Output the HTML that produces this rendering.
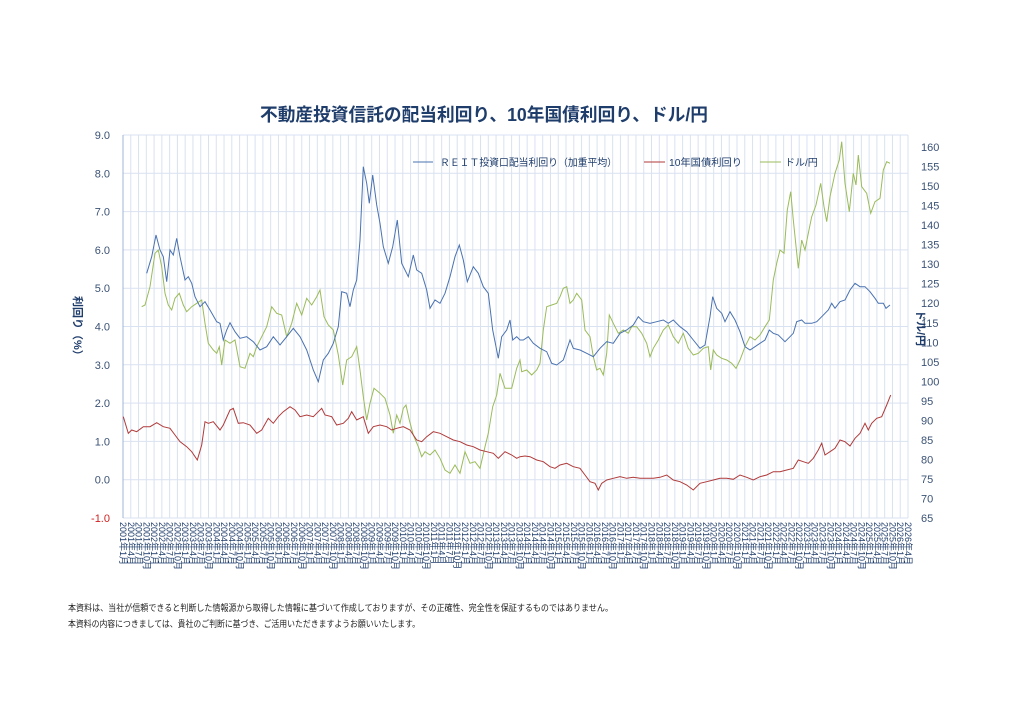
<!DOCTYPE html>
<html><head><meta charset="utf-8">
<style>
html,body{margin:0;padding:0;background:#fff;overflow:hidden;}
svg{display:block;}
text{font-family:"Liberation Sans","Noto Sans CJK JP",sans-serif;}
</style></head>
<body>
<svg id="c" width="1024" height="723" xmlns="http://www.w3.org/2000/svg">
<rect width="1024" height="723" fill="#fff"/>
<g id="grid"></g>
<g id="series"></g>
<g id="labels"></g>
<text x="484" y="121" text-anchor="middle" font-size="18" font-weight="bold" fill="#1f3d6b" textLength="448" lengthAdjust="spacingAndGlyphs">不動産投資信託の配当利回り、10年国債利回り、ドル/円</text>
<line x1="413" y1="162" x2="433" y2="162" stroke="#4a72b0" stroke-width="1"/>
<text x="440" y="166" font-size="10" fill="#1f3d6b" textLength="177" lengthAdjust="spacingAndGlyphs">ＲＥＩＴ投資口配当利回り（加重平均）</text>
<line x1="644" y1="162" x2="665" y2="162" stroke="#b03a3a" stroke-width="1"/>
<text x="669" y="166" font-size="10" fill="#1f3d6b" textLength="73" lengthAdjust="spacingAndGlyphs">10年国債利回り</text>
<line x1="760" y1="162" x2="781" y2="162" stroke="#9bbb59" stroke-width="1"/>
<text x="785" y="166" font-size="10" fill="#1f3d6b">ドル/円</text>
<text transform="translate(74,296) rotate(90)" font-size="11" font-weight="bold" fill="#1f3d6b">利回り（%）</text>
<text transform="translate(917,310) rotate(90)" font-size="11" font-weight="bold" fill="#1f3d6b">ドル/円</text>
<text x="68" y="611" font-size="9" fill="#222" textLength="545" lengthAdjust="spacingAndGlyphs">本資料は、当社が信頼できると判断した情報源から取得した情報に基づいて作成しておりますが、その正確性、完全性を保証するものではありません。</text>
<text x="68" y="627" font-size="9" fill="#222" textLength="352" lengthAdjust="spacingAndGlyphs">本資料の内容につきましては、貴社のご判断に基づき、ご活用いただきますようお願いいたします。</text>
</svg>
<script>
var NS="http://www.w3.org/2000/svg";
function el(t,a,p){var e=document.createElementNS(NS,t);for(var k in a)e.setAttribute(k,a[k]);p.appendChild(e);return e;}
var grid=document.getElementById('grid'),lab=document.getElementById('labels'),ser=document.getElementById('series');
var X0=123,X1=908,N=102,dx=(X1-X0)/(N-1);
for(var i=0;i<N;i++){var x=X0+i*dx;el('line',{x1:x,y1:135,x2:x,y2:518,stroke:'#d9e2f0','stroke-width':1},grid);}
for(var v=9;v>=-1;v--){var y=135+(9-v)*38.3;el('line',{x1:X0,y1:y,x2:X1,y2:y,stroke:'#d9e2f0','stroke-width':1},grid);
 var t=el('text',{x:110,y:y+4,'font-size':11,'text-anchor':'end',fill:v<0?'#d02020':'#3b5275'},lab);t.textContent=v.toFixed(1);}
el('line',{x1:X0,y1:135,x2:X0,y2:518,stroke:'#9fb4d4','stroke-width':1},grid);
for(var r=160;r>=65;r-=5){var y=147+(160-r)/5*19.53;var t=el('text',{x:921,y:y+4,'font-size':11,fill:'#3b5275'},lab);t.textContent=r;}
var m=[1,4,7,10];
for(var i=0;i<N;i++){var yr=2001+Math.floor(i/4),mo=m[i%4];var x=X0+i*dx;
 var t=el('text',{transform:'translate('+(x-3)+',522) rotate(90)','font-size':9,fill:'#1f3d6b'},lab);t.textContent=yr+'年'+mo+'月';}
function P(off,pts,minx){return pts.filter(function(p){return minx===undefined||p[0]>=minx;}).map(function(p){return (off[0]+p[0]/3).toFixed(1)+','+(off[1]+p[1]/3).toFixed(1);}).join(' ');}
var A=[120,140],B=[500,140];
var blue1=[[80,400],[95,350],[108,285],[120,330],[130,350],[140,425],[150,330],[160,345],[170,295],[180,350],[195,420],[205,410],[215,430],[225,470],[240,500],[255,485],[270,510],[290,545],[300,550],[310,600],[320,570],[330,548],[345,575],[360,595],[380,590],[400,605],[420,630],[440,620],[460,590],[480,615],[500,590],[520,565],[540,590],[560,630],[580,690],[595,725],[610,660],[625,640],[640,610],[655,560],[665,455],[680,460],[690,500],[700,450],[710,420],[720,300],[730,80],[740,130],[748,190],[758,105],[770,195],[780,250],[790,320],[805,370],[818,320],[832,240],[845,370],[865,410],[880,345],[890,390],[905,400],[920,450],[930,505],[945,480],[960,490],[975,460],[990,410],[1005,350],[1018,315],[1030,360],[1042,425],[1060,380],[1075,400],[1090,440],[1105,460],[1118,570],[1135,655],[1145,590],[1160,570],[1170,540],[1178,600],[1190,590],[1200,600]];
var blue2=[[0,640],[10,580],[20,570],[30,540],[40,600],[55,595],[70,600],[85,590],[100,610],[120,625],[140,635],[155,670],[170,675],[190,660],[210,600],[220,625],[240,630],[260,640],[280,650],[300,625],[320,605],[340,610],[360,580],[380,570],[400,555],[415,530],[430,545],[450,550],[470,545],[490,540],[505,550],[520,540],[540,560],[560,575],[580,600],[600,625],[615,615],[630,530],[638,470],[650,505],[665,520],[675,545],[690,515],[705,540],[720,575],[735,620],[750,630],[765,620],[780,610],[795,600],[808,570],[820,580],[835,585],[855,605],[870,590],[880,580],[890,545],[905,540],[915,550],[935,550],[950,545],[965,530],[985,510],[995,490],[1005,505],[1020,485],[1035,480],[1050,450],[1065,430],[1080,440],[1095,440],[1110,455],[1125,475],[1135,490],[1150,490],[1158,505],[1170,495]];
var red1=[[10,830],[25,880],[35,870],[50,875],[70,860],[90,860],[110,848],[130,860],[150,865],[165,885],[180,905],[200,920],[215,935],[232,960],[245,915],[255,845],[265,850],[280,845],[300,870],[310,855],[330,810],[340,805],[355,850],[370,848],[390,855],[410,880],[425,870],[445,835],[460,850],[475,830],[490,815],[510,800],[525,810],[540,830],[560,825],[580,830],[595,815],[605,805],[615,825],[635,830],[650,855],[670,850],[685,835],[695,815],[710,840],[730,830],[745,880],[760,860],[780,855],[800,860],[815,870],[830,865],[850,860],[870,870],[890,900],[905,905],[920,890],[940,875],[960,880],[980,890],[1000,900],[1020,905],[1040,915],[1060,920],[1080,930],[1100,935],[1120,940],[1135,955],[1155,935],[1175,945],[1190,955],[1200,950]];
var red2=[[0,950],[15,920],[30,935],[45,950],[60,945],[75,948],[90,950],[110,960],[130,965],[150,980],[165,985],[180,975],[200,970],[220,980],[240,985],[255,1005],[270,1025],[285,1030],[295,1050],[305,1030],[320,1020],[340,1015],[360,1010],[380,1015],[400,1012],[420,1015],[440,1015],[460,1015],[480,1012],[500,1005],[520,1020],[540,1025],[560,1035],[580,1050],[600,1030],[620,1025],[640,1020],[660,1015],[680,1015],[700,1018],[720,1005],[740,1012],[760,1020],[780,1010],[800,1005],[820,995],[840,995],[860,990],[880,985],[895,960],[910,965],[925,970],[940,955],[955,930],[965,910],[975,945],[990,935],[1005,925],[1020,900],[1035,905],[1050,918],[1065,895],[1080,880],[1095,850],[1105,870],[1115,850],[1130,835],[1145,830],[1160,795],[1172,765]];
var g1=[[65,500],[75,495],[90,440],[105,340],[115,330],[125,380],[135,460],[145,495],[155,510],[165,475],[178,460],[190,495],[200,515],[215,500],[230,490],[245,480],[255,550],[265,610],[280,630],[290,640],[298,620],[305,675],[315,600],[330,610],[345,600],[360,680],[375,685],[390,640],[400,650],[410,620],[425,590],[440,560],[455,500],[470,520],[485,525],[500,590],[515,550],[530,490],[545,525],[560,475],[575,495],[590,470],[600,450],[612,530],[625,555],[640,570],[655,645],[668,735],[680,660],[695,650],[710,620],[720,690],[730,770],[740,840],[750,790],[762,745],[780,760],[795,775],[810,825],[820,880],[830,825],[840,850],[850,805],[858,795],[868,840],[880,885],[895,920],[905,950],[915,935],[930,945],[945,930],[960,955],[975,990],[990,1000],[1005,975],[1020,1000],[1035,935],[1050,970],[1065,965],[1080,985],[1095,920],[1105,880],[1118,800],[1130,765],[1140,700],[1155,745],[1175,745],[1190,685],[1200,660]];
var g2=[[0,720],[15,745],[35,745],[45,700],[55,660],[65,695],[80,690],[95,705],[110,690],[120,670],[130,570],[140,500],[155,495],[170,490],[180,470],[190,445],[200,440],[210,490],[220,480],[230,460],[245,480],[255,570],[270,590],[280,650],[290,690],[300,685],[310,705],[320,640],[328,525],[340,550],[355,580],[370,570],[385,580],[395,560],[410,560],[425,580],[440,610],[450,650],[460,625],[475,600],[490,570],[505,555],[520,590],[535,610],[550,580],[565,625],[580,645],[595,640],[610,625],[625,620],[632,690],[640,630],[650,645],[665,655],[680,660],[695,670],[708,685],[720,660],[735,620],[750,590],[765,600],[780,585],[795,560],[808,540],[820,420],[830,370],[840,330],[852,340],[862,210],[872,155],[880,240],[895,385],[905,300],[915,330],[925,280],[935,230],[948,195],[962,130],[972,200],[980,245],[990,170],[1005,100],[1018,60],[1025,5],[1035,130],[1048,215],[1060,100],[1068,135],[1075,45],[1085,140],[1100,160],[1112,220],[1125,185],[1140,175],[1150,90],[1160,65],[1170,70]];
el('polyline',{points:P(A,g1)+' '+P(B,g2,65),fill:'none',stroke:'#9bbb59','stroke-width':1},ser);
el('polyline',{points:P(A,red1)+' '+P(B,red2,65),fill:'none',stroke:'#b03a3a','stroke-width':1},ser);
el('polyline',{points:P(A,blue1)+' '+P(B,blue2,65),fill:'none',stroke:'#4a72b0','stroke-width':1},ser);
</script>
</body></html>
